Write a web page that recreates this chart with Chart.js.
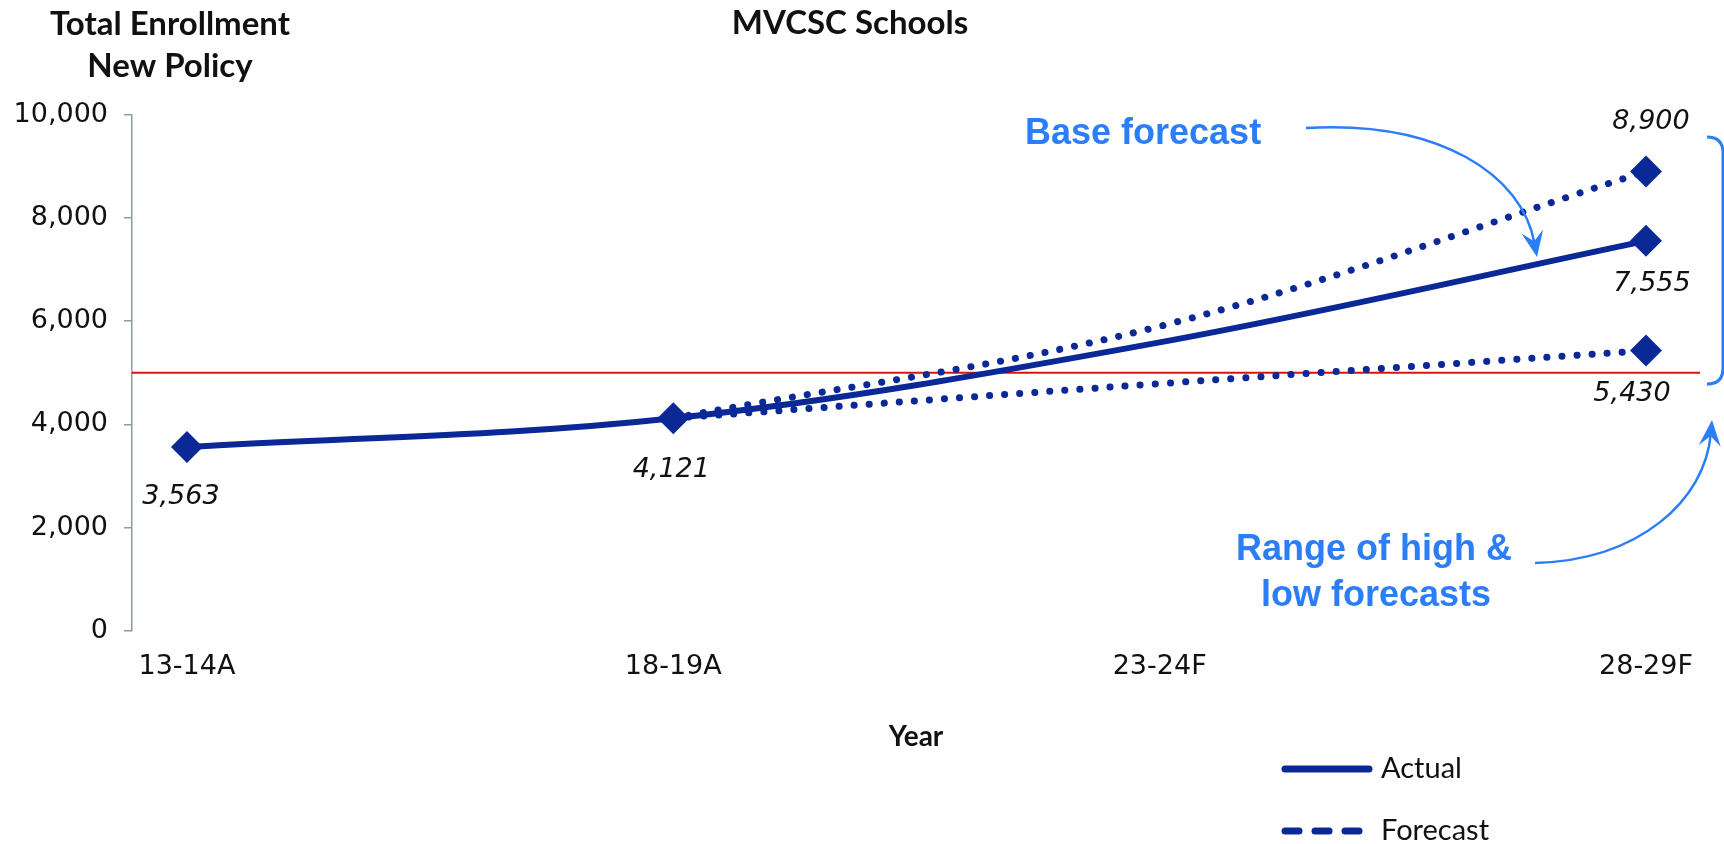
<!DOCTYPE html>
<html lang="en">
<head>
<meta charset="UTF-8">
<title>MVCSC Schools - Total Enrollment New Policy</title>
<script src="https://cdn.jsdelivr.net/npm/chart.js"></script>
<style>
  html, body { margin: 0; padding: 0; background: #fff; }
  .wrap { width: 1724px; height: 844px; position: relative; }
</style>
</head>
<body>
<div class="wrap"><canvas id="enrollChart"></canvas></div>
<script>
// --- data ---
const years = ['13-14A', '18-19A', '23-24F', '28-29F'];
const baseForecast = [3563, 4121, 5590, 7555];
const highForecast = [null, 4121, 5900, 8900];
const lowForecast = [null, 4121, 4790, 5430];
const capacityLine = 5000;
const yMin = 0;
const yMax = 10000;
const yStep = 2000;

const NAVY = '#0a2896';
const BLUE = '#2b7ef7';
const RED = '#e01010';

const toXY = arr => arr.map((v, i) => ({ x: i, y: v }));

// x runs a little past first/last year, like the original plot area
const xMin = -0.113;
const xMax = years.length - 1 + 0.111;

const extras = {
    id: 'extras',
    afterDatasetsDraw(chart) {
        const ctx = chart.ctx;
        // data labels: [dataset index, point index, dx, dy]
        const spots = [
            [0, 0, -6, 50],
            [0, 1, -2, 52],
            [0, 3, 6, 43],
            [1, 3, 5, -49],
            [2, 3, -14, 43]
        ];
        ctx.save();
        ctx.font = 'italic 27px "DejaVu Sans"';
        ctx.fillStyle = '#111';
        ctx.textAlign = 'center';
        ctx.textBaseline = 'middle';
        spots.forEach(([di, i, dx, dy]) => {
            const pt = chart.getDatasetMeta(di).data[i];
            const v = chart.data.datasets[di].data[i].y;
            ctx.fillText(v.toLocaleString('en-US'), pt.x + dx, pt.y + dy);
        });
        ctx.restore();
    },
    afterDraw(chart) {
        const ctx = chart.ctx;
        ctx.save();

        // y heading, top left
        ctx.fillStyle = '#111';
        ctx.font = 'bold 33px Lato';
        ctx.textAlign = 'center';
        ctx.textBaseline = 'middle';
        ctx.fillText('Total Enrollment', 170, 24);
        ctx.fillText('New Policy', 170, 66);

        // call-out text
        ctx.fillStyle = BLUE;
        ctx.font = 'bold 36px "Liberation Sans"';
        ctx.textAlign = 'left';
        ctx.fillText('Base forecast', 1025, 134);
        ctx.textAlign = 'center';
        ctx.fillText('Range of high &', 1374, 550);
        ctx.fillText('low forecasts', 1376, 596);

        // arrows
        function arrow(x0, y0, c1x, c1y, c2x, c2y, x1, y1) {
            const ang = Math.atan2(y1 - c2y, x1 - c2x);
            const back = 14;
            const ex = x1 - Math.cos(ang) * back;
            const ey = y1 - Math.sin(ang) * back;
            ctx.strokeStyle = BLUE;
            ctx.lineWidth = 2.5;
            ctx.beginPath();
            ctx.moveTo(x0, y0);
            ctx.bezierCurveTo(c1x, c1y, c2x, c2y, ex, ey);
            ctx.stroke();
            // stealth head
            const L = 26, W = 11;
            const bx = x1 - Math.cos(ang) * L, by = y1 - Math.sin(ang) * L;
            const nx = -Math.sin(ang), ny = Math.cos(ang);
            const mx = x1 - Math.cos(ang) * L * 0.62, my = y1 - Math.sin(ang) * L * 0.62;
            ctx.fillStyle = BLUE;
            ctx.beginPath();
            ctx.moveTo(x1, y1);
            ctx.lineTo(bx + nx * W, by + ny * W);
            ctx.lineTo(mx, my);
            ctx.lineTo(bx - nx * W, by - ny * W);
            ctx.closePath();
            ctx.fill();
        }
        arrow(1306, 128, 1440, 120, 1522, 175, 1537, 257);
        arrow(1535, 563, 1640, 560, 1705, 500, 1712, 420);

        // bracket around the forecast range
        ctx.strokeStyle = BLUE;
        ctx.lineWidth = 3;
        ctx.beginPath();
        ctx.moveTo(1707, 137);
        ctx.quadraticCurveTo(1723, 137, 1723, 153);
        ctx.lineTo(1723, 368);
        ctx.quadraticCurveTo(1723, 384, 1707, 384);
        ctx.stroke();

        // legend
        ctx.strokeStyle = NAVY;
        ctx.lineCap = 'round';
        ctx.lineWidth = 7;
        ctx.beginPath();
        ctx.moveTo(1285, 769);
        ctx.lineTo(1369, 769);
        ctx.stroke();
        [1285, 1315, 1345].forEach(x => {
            ctx.beginPath();
            ctx.moveTo(x, 831);
            ctx.lineTo(x + 14, 831);
            ctx.stroke();
        });
        ctx.fillStyle = '#111';
        ctx.font = '29px Lato';
        ctx.textAlign = 'left';
        ctx.fillText('Actual', 1381, 769);
        ctx.fillText('Forecast', 1381, 831);

        ctx.restore();
    }
};

const dotted = [0.1, 15];

new Chart(document.getElementById('enrollChart'), {
    type: 'line',
    data: {
        datasets: [
            {
                label: 'Actual',
                data: toXY(baseForecast),
                borderColor: NAVY,
                backgroundColor: NAVY,
                borderWidth: 6,
                tension: 0.35,
                pointStyle: 'rectRot',
                pointRadius: [16, 16, 0, 16],
                pointBorderWidth: 0,
                order: 1
            },
            {
                label: 'Forecast high',
                data: toXY(highForecast),
                borderColor: NAVY,
                backgroundColor: NAVY,
                borderWidth: 7,
                borderDash: dotted,
                borderCapStyle: 'round',
                tension: 0.35,
                pointStyle: 'rectRot',
                pointRadius: [0, 0, 0, 16],
                pointBorderWidth: 0,
                order: 2
            },
            {
                label: 'Forecast low',
                data: toXY(lowForecast),
                borderColor: NAVY,
                backgroundColor: NAVY,
                borderWidth: 7,
                borderDash: dotted,
                borderCapStyle: 'round',
                tension: 0.35,
                pointStyle: 'rectRot',
                pointRadius: [0, 0, 0, 16],
                pointBorderWidth: 0,
                order: 3
            },
            {
                label: 'Capacity',
                data: [{ x: xMin, y: capacityLine }, { x: xMax, y: capacityLine }],
                borderColor: RED,
                borderWidth: 2,
                pointRadius: 0,
                order: 10
            }
        ]
    },
    options: {
        responsive: true,
        maintainAspectRatio: false,
        animation: false,
        events: [],
        layout: { padding: { top: 0, left: 0, right: 24, bottom: 0 } },
        plugins: {
            legend: { display: false },
            tooltip: { enabled: false },
            title: {
                display: true,
                text: 'MVCSC Schools',
                color: '#111',
                font: { family: 'Lato', weight: 'bold', size: 33 },
                padding: { top: 4, bottom: 71 }
            }
        },
        scales: {
            x: {
                type: 'linear',
                min: xMin,
                max: xMax,
                afterBuildTicks: s => { s.ticks = years.map((_, i) => ({ value: i })); },
                afterFit: s => { s.height = 213; },
                grid: { display: false, drawTicks: false },
                border: { display: false },
                ticks: {
                    callback: v => years[v],
                    color: '#111',
                    padding: 20,
                    maxRotation: 0,
                    font: { family: 'DejaVu Sans', size: 27 }
                },
                title: {
                    display: true,
                    text: 'Year',
                    color: '#111',
                    font: { family: 'Lato', weight: 'bold', size: 28 },
                    padding: { top: 0, bottom: 90 }
                }
            },
            y: {
                min: yMin,
                max: yMax,
                afterFit: s => { s.width = 132; },
                grid: { display: true, drawOnChartArea: false, drawTicks: true, tickLength: 8, color: '#8c9c9c', lineWidth: 1.5 },
                border: { display: true, color: '#8c9c9c', width: 1.5 },
                ticks: {
                    stepSize: yStep,
                    padding: 16,
                    color: '#111',
                    font: { family: 'DejaVu Sans', size: 27 },
                    callback: v => v.toLocaleString('en-US')
                }
            }
        }
    },
    plugins: [extras]
});
</script>
</body>
</html>
